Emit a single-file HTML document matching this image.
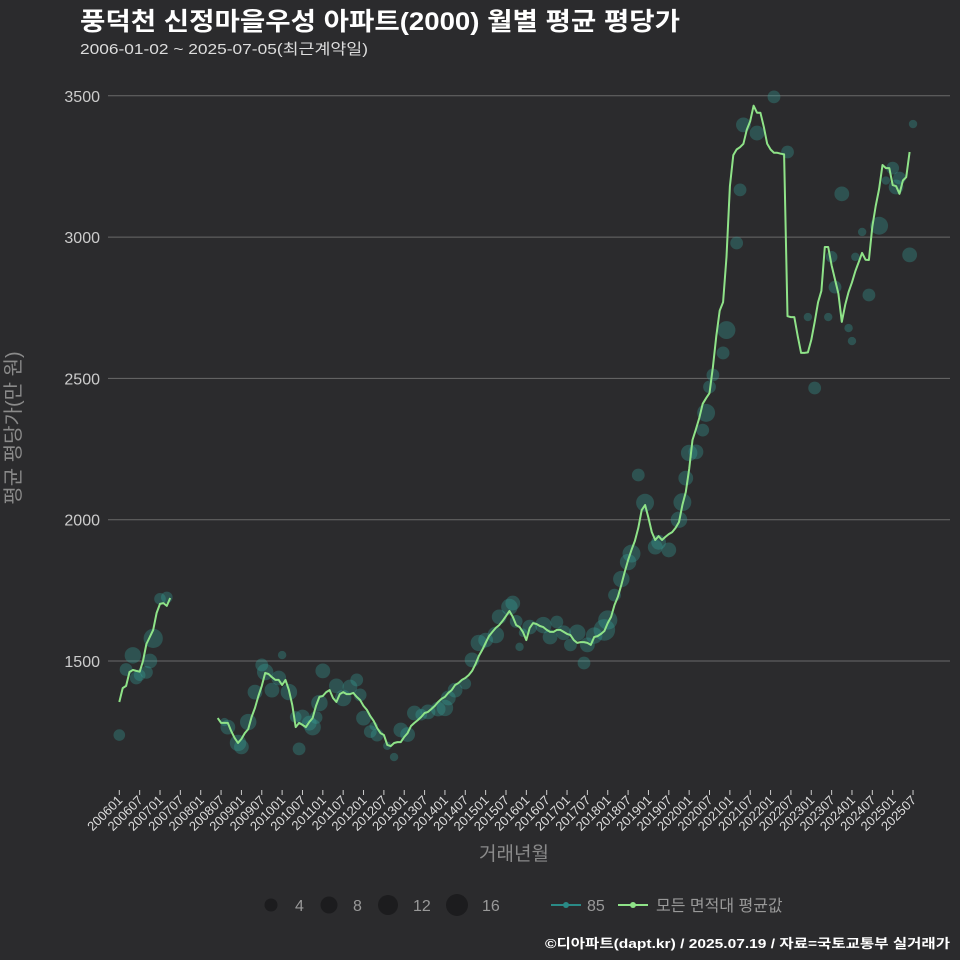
<!DOCTYPE html>
<html><head><meta charset="utf-8">
<style>
body{margin:0;background:#2b2b2d;}
svg{display:block;font-family:"Liberation Sans","Noto Sans CJK KR",sans-serif;}
</style></head>
<body>
<svg id="chart" width="960" height="960" viewBox="0 0 960 960">
<rect width="960" height="960" fill="#2b2b2d"/>
<text x="80" y="30" fill="#ffffff" font-size="25" font-weight="bold" textLength="600" lengthAdjust="spacingAndGlyphs">풍덕천 신정마을우성 아파트(2000) 월별 평균 평당가</text>
<text x="80" y="54" fill="#dddddd" font-size="15" textLength="288" lengthAdjust="spacingAndGlyphs">2006-01-02 ~ 2025-07-05(최근계약일)</text>
<g id="grid"></g>
<g id="yticks"></g>
<g id="xticks"></g>
<g id="bubbles"></g>
<g id="lines"></g>
<text transform="translate(20,428) rotate(-90)" text-anchor="middle" fill="#8a8a8a" font-size="20">평균 평당가(만 원)</text>
<text x="514" y="860" text-anchor="middle" fill="#8a8a8a" font-size="19">거래년월</text>
<g>
<circle cx="271" cy="905" r="6.5" fill="#1c1c1e"/>
<text x="295" y="911" fill="#999" font-size="16">4</text>
<circle cx="329" cy="905" r="8.5" fill="#1c1c1e"/>
<text x="353" y="911" fill="#999" font-size="16">8</text>
<circle cx="388" cy="905" r="10" fill="#1c1c1e"/>
<text x="413" y="911" fill="#999" font-size="16">12</text>
<circle cx="457" cy="905" r="11" fill="#1c1c1e"/>
<text x="482" y="911" fill="#999" font-size="16">16</text>
</g>
<g>
<line x1="551" y1="905" x2="581" y2="905" stroke="#2a8a86" stroke-width="2"/>
<circle cx="566" cy="905" r="3" fill="#2a8a86"/>
<text x="587" y="911" fill="#999" font-size="16">85</text>
<line x1="618" y1="905" x2="648" y2="905" stroke="#8fe388" stroke-width="2"/>
<circle cx="633" cy="905" r="3" fill="#8fe388"/>
<text x="656" y="911" fill="#999" font-size="16">모든 면적대 평균값</text>
</g>
<text x="950" y="948" text-anchor="end" fill="#ffffff" font-size="13" font-weight="bold" textLength="405" lengthAdjust="spacingAndGlyphs">©디아파트(dapt.kr) / 2025.07.19 / 자료=국토교통부 실거래가</text>
</svg>
<script>
const yTicks=[1500,2000,2500,3000,3500];
const seg1Start=0;
const seg1Values=[1355,1404,1412,1461,1468,1465,1462,1500,1560,1585,1610,1670,1702,1705,1695,1723];
const seg2Start=29;
const seg2Values=[1298,1281,1281,1281,1252,1228,1210,1224,1245,1259,1302,1334,1376,1412,1458,1454,1443,1433,1433,1415,1433,1397,1344,1266,1281,1274,1266,1284,1298,1341,1373,1376,1390,1397,1369,1355,1383,1390,1383,1383,1387,1373,1362,1341,1327,1305,1288,1263,1245,1238,1203,1199,1210,1213,1213,1231,1245,1270,1281,1291,1302,1316,1320,1330,1341,1355,1366,1373,1387,1397,1415,1422,1433,1440,1450,1465,1489,1518,1539,1564,1588,1603,1617,1627,1642,1659,1677,1656,1627,1620,1603,1574,1617,1634,1631,1624,1620,1610,1603,1603,1610,1610,1603,1596,1592,1574,1564,1567,1567,1564,1557,1585,1588,1596,1606,1634,1656,1698,1727,1769,1815,1857,1893,1925,1971,2034,2052,2006,1956,1928,1942,1928,1939,1949,1956,1971,1992,2052,2098,2180,2282,2320,2360,2410,2430,2448,2540,2650,2740,2770,2930,3180,3290,3310,3318,3330,3380,3410,3465,3440,3440,3390,3330,3310,3298,3298,3295,3293,2720,2717,2717,2650,2590,2590,2592,2636,2700,2770,2810,2965,2965,2900,2850,2800,2700,2760,2806,2840,2880,2912,2944,2920,2919,3036,3110,3170,3255,3244,3244,3184,3180,3153,3200,3212,3301];
const bubbleMonth=[0,2,4,5,6,8,9,10,12,14,31,32,35,36,38,40,42,43,45,47,48,50,53,52,54,56,57,58,59,60,64,66,68,70,71,72,74,76,75,79,81,83,85,87,89,91,94,97,96,99,102,104,106,108,111,112,115,116,117,118,119,121,125,127,129,131,133,137,135,138,140,143,144,146,148,150,151,153,155,158,159,162,165,166,167,168,170,172,173,174,175,178,179,182,183,184,188,193,197,203,205,209,210,211,213,215,216,217,219,221,224,226,229,230,233,228,234];
const bubbleValue=[1238,1470,1520,1440,1450,1460,1500,1580,1720,1725,1284,1266,1210,1196,1284,1390,1486,1461,1397,1440,1521,1390,1189,1302,1302,1280,1266,1300,1351,1465,1412,1369,1408,1433,1380,1298,1250,1238,1270,1200,1160,1256,1240,1316,1310,1320,1330,1369,1334,1397,1420,1504,1564,1574,1592,1656,1691,1705,1640,1550,1600,1620,1627,1585,1638,1600,1557,1493,1600,1557,1590,1610,1645,1733,1790,1850,1880,2158,2060,1903,1920,1893,2000,2062,2147,2236,2240,2317,2378,2470,2512,2590,2671,2979,3167,3397,3368,3496,3301,2717,2466,2717,2930,2823,3153,2678,2632,2930,3018,2795,3040,3200,3177,3209,2937,3244,3400,3485];
const bubbleCount=[3,4,8,4,3,4,6,12,3,3,1,6,8,6,8,6,4,8,6,6,1,8,4,3,6,6,8,4,8,6,6,8,6,4,4,6,4,4,1,1,1,6,6,6,3,6,6,6,8,6,3,6,8,6,8,6,8,6,4,1,1,6,8,6,4,6,4,4,8,6,8,16,12,4,8,8,10,4,10,6,6,6,8,10,6,8,6,4,10,4,4,4,10,4,4,6,6,4,4,1,4,1,3,4,6,1,1,1,1,4,10,1,6,4,6,4,1,1];
const months=[];for(let y=2006;y<=2025;y++){months.push(y+'01');months.push(y+'07');}

const X0=119.3, DX=3.392;
function xs(i){return X0+i*DX;}
function ys(v){return 661-(v-1500)*0.28262;}
const NS='http://www.w3.org/2000/svg';
function mk(tag,attrs,parent){const e=document.createElementNS(NS,tag);for(const k in attrs)e.setAttribute(k,attrs[k]);parent.appendChild(e);return e;}
const grid=document.getElementById('grid'),yt=document.getElementById('yticks'),xt=document.getElementById('xticks');
yTicks.forEach(v=>{
  const l=mk('line',{x1:108,x2:950,y1:ys(v),y2:ys(v),stroke:'#6a6a6a','stroke-width':1},grid);
  
  
  const t=mk('text',{x:100,y:ys(v)+6,'text-anchor':'end',fill:'#cccccc','font-size':16},yt);
  t.textContent=v;
  
  
});
months.forEach((m,k)=>{
  const x=xs(k*6);
  const tk=mk('line',{x1:x,x2:x,y1:790,y2:795,stroke:'#cccccc','stroke-width':1},xt);
  
  
  const t=mk('text',{transform:'translate('+(x+4)+',801) rotate(-45)','text-anchor':'end',fill:'#dddddd','font-size':13},xt);
  t.textContent=m;
  
  
});
const bg=document.getElementById('bubbles');
bubbleMonth.forEach((mi,k)=>{
  const c=mk('circle',{cx:xs(mi),cy:ys(bubbleValue[k]),r:2.2*Math.sqrt(bubbleCount[k])+2,fill:'#38a59c','fill-opacity':0.33},bg);
  
  
});
const lg=document.getElementById('lines');
[[seg1Start,seg1Values],[seg2Start,seg2Values]].forEach(([s,vals],n)=>{
  const d=vals.map((v,i)=>(i?'L':'M')+xs(s+i).toFixed(1)+','+ys(v).toFixed(1)).join('');
  const p=mk('path',{d:d,fill:'none',stroke:'#8fe388','stroke-width':2,'stroke-linejoin':'round'},lg);
  
  
});
</script>
</body></html>
